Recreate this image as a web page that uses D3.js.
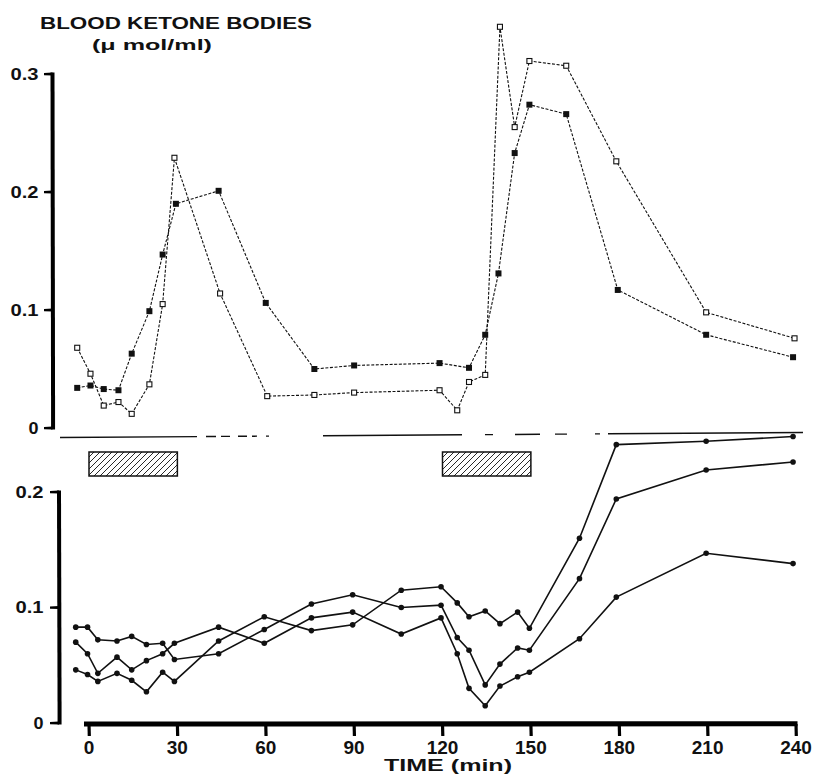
<!DOCTYPE html>
<html>
<head>
<meta charset="utf-8">
<script src="https://cdn.jsdelivr.net/npm/d3@7"></script>
<style>
  html, body { margin: 0; padding: 0; background: #fff; }
  svg { display: block; }
  text { font-family: "Liberation Sans", Arial, sans-serif; fill: #111; }
</style>
</head>
<body>
<svg id="chart" width="818" height="779"></svg>
<script>
// ---- Upper panel: blood ketone bodies (µmol/ml), two groups ----
const openTimes   = [-4, 0.5, 5, 10, 14.5, 20.5, 25, 29, 44.5, 60.5, 76.5, 90, 119, 125, 129, 134.5, 139.5, 144.5, 149.5, 162, 179, 209.5, 239.5];
const openValues  = [0.068, 0.046, 0.019, 0.022, 0.012, 0.037, 0.105, 0.229, 0.114, 0.027, 0.028, 0.030,
                     0.032, 0.015, 0.039, 0.045, 0.340, 0.255, 0.311, 0.307, 0.226, 0.098, 0.076];

const filledTimes  = [-4, 0.5, 5, 10, 14.5, 20.5, 25, 29.5, 44, 60, 76.5, 90, 119, 129, 134.5, 139, 144.5, 149.5, 162, 179.5, 209.5, 239];
const filledValues = [0.034, 0.036, 0.033, 0.032, 0.063, 0.099, 0.147, 0.190, 0.201, 0.106, 0.050, 0.053,
                      0.055, 0.051, 0.079, 0.131, 0.233, 0.274, 0.266, 0.117, 0.079, 0.060];

// ---- Lower panel: three individual curves ----
const lowerTimes = [-4.5, -0.5, 3, 9.5, 14.5, 19.5, 25, 29, 44, 59.5, 75.5, 89.5, 106, 119.5, 125, 129, 134.5, 139.5, 145.5, 149.5, 166.5, 179, 209.5, 239];
const curveA = [0.083, 0.083, 0.072, 0.071, 0.075, 0.068, 0.069, 0.055, 0.060, 0.081, 0.103, 0.111,
                0.100, 0.102, 0.074, 0.063, 0.033, 0.051, 0.065, 0.063, 0.125, 0.194, 0.219, 0.226];
const curveB = [0.070, 0.060, 0.043, 0.057, 0.046, 0.054, 0.060, 0.069, 0.083, 0.069, 0.091, 0.096,
                0.077, 0.091, 0.060, 0.030, 0.015, 0.032, 0.040, 0.044, 0.073, 0.109, 0.147, 0.138];
const curveC = [0.046, 0.042, 0.036, 0.043, 0.037, 0.027, 0.044, 0.036, 0.071, 0.092, 0.080, 0.085,
                0.115, 0.118, 0.104, 0.092, 0.097, 0.086, 0.096, 0.082, 0.160, 0.241, 0.244, 0.248];

// ---- Exercise periods (min) ----
const periods = [[0, 30], [120, 150]];

// ---- Tick labels ----
const timeTicks  = [0, 30, 60, 90, 120, 150, 180, 210, 240];
const upperTicks = [0, 0.1, 0.2, 0.3];
const lowerTicks = [0, 0.1, 0.2];

const ink = "#111";
const svg = d3.select("#chart");

const x    = d3.scaleLinear().domain([0, 240]).range([89, 796]);
const yTop = d3.scaleLinear().domain([0, 0.3]).range([428, 74]);
const yBot = d3.scaleLinear().domain([0, 0.2]).range([723, 492]);

const fmt = d => d === 0 ? "0" : d3.format(".1f")(d);
const poly = pts => "M" + pts.map(p => p.join(",")).join("L") + "Z";

// hatch pattern for the exercise bars
const defs = svg.append("defs");
const pat = defs.append("pattern")
  .attr("id", "hatch").attr("patternUnits", "userSpaceOnUse")
  .attr("width", 6).attr("height", 6);
pat.append("path")
  .attr("d", "M0,6 L6,0 M-1.5,1.5 L1.5,-1.5 M4.5,7.5 L7.5,4.5")
  .attr("stroke", ink).attr("stroke-width", 0.9);

// ---- Titles ----
svg.append("text").attr("x", 40).attr("y", 28.5)
  .attr("font-size", 16).attr("font-weight", "bold")
  .attr("textLength", 272).attr("lengthAdjust", "spacingAndGlyphs")
  .text("BLOOD KETONE BODIES");
svg.append("text").attr("x", 92).attr("y", 50)
  .attr("font-size", 15).attr("font-weight", "bold")
  .attr("textLength", 120).attr("lengthAdjust", "spacingAndGlyphs")
  .text("(μ mol/ml)");

// ---- Vertical axes: hand-inked bar (slightly leaning) with ticks ----
function drawYAxis(scale, ticks, ax, tickLen, labelRight) {
  const [d0, d1] = scale.domain();
  const g = svg.append("g");
  const yb = scale(d0) + 1.5, yt = scale(d1) - 1.5;
  g.append("path")
    .attr("d", poly([[ax - 2, yt], [ax + 2, yt], [ax + 2.6, yb], [ax - 1.4, yb]]))
    .attr("fill", "#000");
  g.selectAll("path.tick").data(ticks).join("path").attr("class", "tick")
    .attr("d", t => poly([[ax - tickLen, scale(t) - 1.1], [ax, scale(t) - 1.5],
                          [ax, scale(t) + 1.5], [ax - tickLen, scale(t) + 1.3]]))
    .attr("fill", "#000");
  g.selectAll("text").data(ticks).join("text")
    .attr("x", labelRight).attr("y", t => scale(t)).attr("dy", "0.36em")
    .attr("text-anchor", "end")
    .attr("font-size", 16).attr("font-weight", "bold")
    .attr("textLength", t => t === 0 ? 10 : 28)
    .attr("lengthAdjust", "spacingAndGlyphs")
    .text(fmt);
}
drawYAxis(yTop, upperTicks, 52.5, 8.5, 38.5);
drawYAxis(yBot, lowerTicks, 59, 9, 43.5);

// ---- Time axis ----
const gX = svg.append("g");
gX.append("path")
  .attr("d", poly([[x(0) - 5, 721.5], [x(240) + 1.5, 721.2], [x(240) + 1.5, 726.3], [x(0) - 5, 726.6]]))
  .attr("fill", "#000");
gX.selectAll("path.tick").data(timeTicks).join("path").attr("class", "tick")
  .attr("d", t => poly([[x(t) - 1.6, 724], [x(t) + 1.6, 724], [x(t) + 1.9, 736], [x(t) - 1.3, 736]]))
  .attr("fill", "#000");
gX.selectAll("text").data(timeTicks).join("text")
  .attr("x", d => x(d)).attr("y", 754)
  .attr("text-anchor", "middle")
  .attr("font-size", 19).attr("font-weight", "bold")
  .text(d3.format("d"));

svg.append("text").attr("x", 384).attr("y", 771)
  .attr("font-size", 16).attr("font-weight", "bold")
  .attr("textLength", 128).attr("lengthAdjust", "spacingAndGlyphs")
  .text("TIME (min)");

// ---- Broken separator between the panels ----
svg.append("line")
  .attr("x1", 60).attr("y1", 437.5).attr("x2", 803).attr("y2", 432.5)
  .attr("stroke", ink).attr("stroke-width", 1.4)
  .attr("stroke-dasharray", "137 9 10 5 9 8 9 5 5 9 3 54 139 23 8 22 25 15 12 28 5 8 195");

// ---- Exercise bars ----
svg.append("g").selectAll("rect").data(periods).join("rect")
  .attr("x", d => x(d[0])).attr("width", d => x(d[1]) - x(d[0]))
  .attr("y", 452).attr("height", 24)
  .attr("fill", "url(#hatch)").attr("stroke", ink).attr("stroke-width", 1.5);

// ---- Upper panel series ----
const zip = (ts, vs) => ts.map((t, i) => ({ t, v: vs[i] }));
const openData   = zip(openTimes, openValues);
const filledData = zip(filledTimes, filledValues);

const lineTop = d3.line().x(d => x(d.t)).y(d => yTop(d.v));
[filledData, openData].forEach(data => {
  svg.append("path").datum(data).attr("d", lineTop)
    .attr("fill", "none").attr("stroke", ink).attr("stroke-width", 1.1)
    .attr("stroke-dasharray", "3 1.6");
});

svg.append("g").selectAll("rect").data(filledData).join("rect")
  .attr("x", d => x(d.t) - 3).attr("y", d => yTop(d.v) - 3)
  .attr("width", 6).attr("height", 6).attr("fill", ink);

svg.append("g").selectAll("rect").data(openData).join("rect")
  .attr("x", d => x(d.t) - 2.5).attr("y", d => yTop(d.v) - 2.5)
  .attr("width", 5).attr("height", 5)
  .attr("fill", "#fff").attr("stroke", ink).attr("stroke-width", 1.1);

// ---- Lower panel series ----
const lineBot = d3.line().x(d => x(d.t)).y(d => yBot(d.v));
[curveA, curveB, curveC].forEach(vals => {
  const data = zip(lowerTimes, vals);
  svg.append("path").datum(data).attr("d", lineBot)
    .attr("fill", "none").attr("stroke", ink).attr("stroke-width", 1.6);
  svg.append("g").selectAll("circle").data(data).join("circle")
    .attr("cx", d => x(d.t)).attr("cy", d => yBot(d.v))
    .attr("r", 2.8).attr("fill", ink);
});
</script>
</body>
</html>
